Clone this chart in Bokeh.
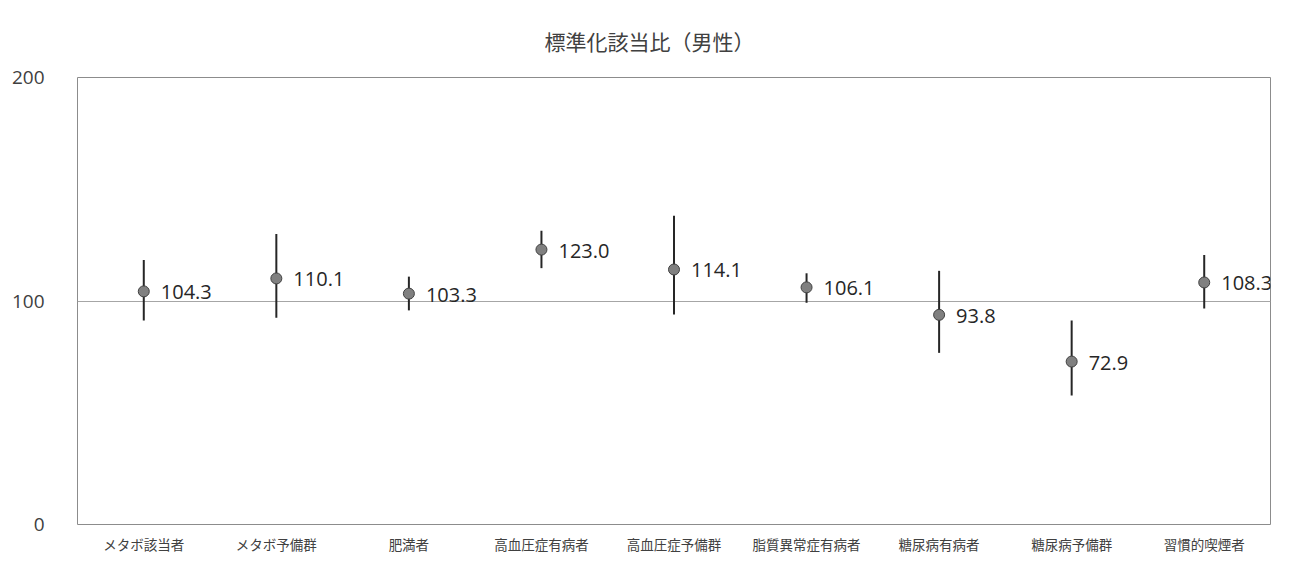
from bokeh.plotting import figure
from bokeh.models import ColumnDataSource, FixedTicker, FactorRange
from bokeh.core.properties import value
from bokeh.embed import file_html
from bokeh.resources import INLINE

title_text = "標準化該当比（男性）"
categories = ["メタボ該当者", "メタボ予備群", "肥満者", "高血圧症有病者", "高血圧症予備群",
              "脂質異常症有病者", "糖尿病有病者", "糖尿病予備群", "習慣的喫煙者"]
ratio = [104.3, 110.1, 103.3, 123.0, 114.1, 106.1, 93.8, 72.9, 108.3]
lower = [91.3, 92.5, 95.8, 114.7, 94.0, 99.2, 76.8, 57.7, 96.7]
upper = [118.4, 130.0, 110.9, 131.4, 138.1, 112.4, 113.5, 91.3, 120.6]
y_ticks = [0, 100, 200]

src = ColumnDataSource(dict(cat=categories, r=ratio, lo=lower, hi=upper,
                            lab=[f"{v:.1f}" for v in ratio]))

p = figure(width=1290, height=556, output_backend="svg", toolbar_location=None,
           x_range=FactorRange(*categories, range_padding=0), y_range=(0, 200),
           min_border_left=77, min_border_right=20, min_border_top=77, min_border_bottom=31,
           title=title_text)
p.title.align = "left"
p.title.text_font = "Noto Sans CJK JP"
p.title.text_font_size = "21px"
p.title.text_font_style = "normal"
p.title.text_color = "#404040"
p.title.standoff = 43
p.title.offset = 467

p.outline_line_color = "#8c8c8c"
p.outline_line_width = 1
p.background_fill_color = "white"
p.border_fill_color = "white"

p.xgrid.grid_line_color = None
p.ygrid.grid_line_color = "#a6a6a6"
p.ygrid.grid_line_width = 1
p.yaxis.ticker = FixedTicker(ticks=y_ticks)
p.yaxis.axis_line_color = None
p.yaxis.major_tick_line_color = None
p.yaxis.minor_tick_line_color = None
p.yaxis.major_label_text_font = "Open Sans"
p.yaxis.major_label_text_font_size = "19px"
p.yaxis.major_label_text_color = "#404040"
p.yaxis.major_label_standoff = 27

p.xaxis.axis_line_color = None
p.xaxis.major_tick_line_color = None
p.xaxis.minor_tick_line_color = None
p.xaxis.major_label_text_font = "Noto Sans CJK JP"
p.xaxis.major_label_text_font_size = "13.5px"
p.xaxis.major_label_text_color = "#404040"
p.xaxis.major_label_standoff = 3

p.segment(x0="cat", y0="lo", x1="cat", y1="hi", source=src, line_color="#262626", line_width=2)
p.scatter(x="cat", y="r", source=src, size=11, fill_color="#808080",
          line_color="#404040", line_width=1)
p.text(x="cat", y="r", text="lab", source=src, x_offset=17, y_offset=1,
       text_baseline="middle", text_align="left", text_font=value("Open Sans"),
       text_font_size="20px", text_color="#262626")

open("out.html", "w").write(file_html(p, INLINE))
